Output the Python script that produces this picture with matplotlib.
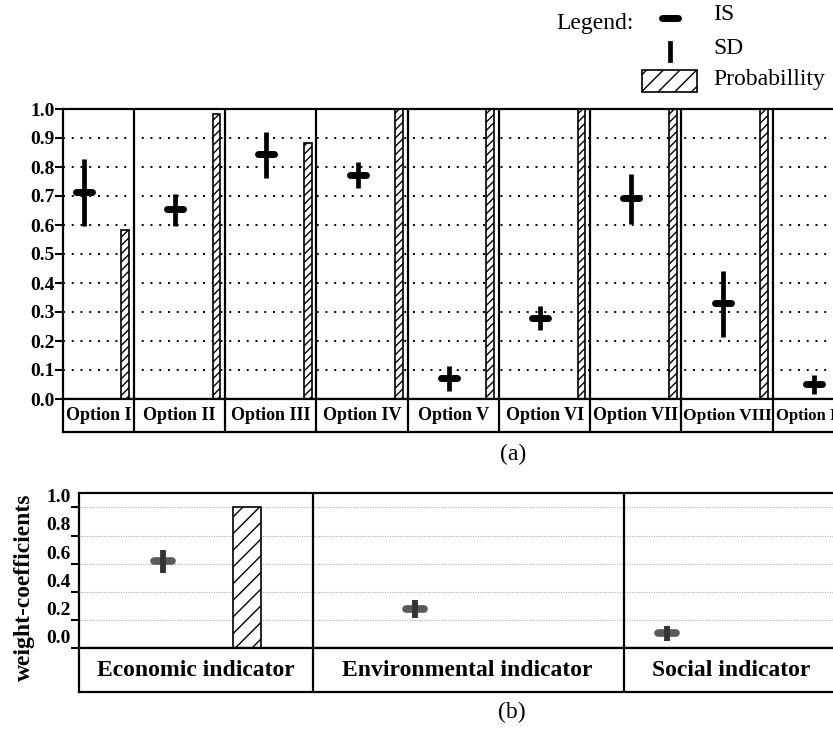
import matplotlib.pyplot as plt
import matplotlib.transforms as mtransforms
from matplotlib.lines import Line2D
from matplotlib.patches import Rectangle

plt.rcParams['font.family'] = ['Liberation Serif', 'DejaVu Serif']
plt.rcParams['hatch.linewidth'] = 1.0

# (a) options
options = ['Option I', 'Option II', 'Option III', 'Option IV', 'Option V',
           'Option VI', 'Option VII', 'Option VIII', 'Option IX']
is_a = [0.715, 0.655, 0.845, 0.772, 0.071, 0.281, 0.692, 0.330, 0.052]
sd_lo_a = [0.597, 0.598, 0.763, 0.729, 0.028, 0.238, 0.603, 0.215, 0.017]
sd_hi_a = [0.827, 0.706, 0.922, 0.818, 0.115, 0.321, 0.776, 0.442, 0.083]
prob_a = [0.583, 0.982, 0.882, 1.0, 1.0, 1.0, 1.0, 1.0, 1.0]

# (b) indicators
indicators = ['Economic indicator', 'Environmental indicator', 'Social indicator']
is_b = [0.621, 0.277, 0.106]
sd_lo_b = [0.532, 0.213, 0.054]
sd_hi_b = [0.697, 0.343, 0.158]
prob_b = [1.0]

W, H = 833, 733
fig = plt.figure(figsize=(W / 100, H / 100), dpi=100)


def box(x0, y0, x1, y1):
    # pixel box (top-left origin) -> figure fraction rect
    return [x0 / W, (H - y1) / H, (x1 - x0) / W, (y1 - y0) / H]


def frame(ax, lw=1.6):
    for s in ax.spines.values():
        s.set_linewidth(lw)
        s.set_color('black')


# ---------------- panel (a) ----------------
ax = fig.add_axes(box(63, 109, 864, 399))
axl = fig.add_axes(box(63, 399, 864, 432))
xa = list(range(len(options)))
for a in (ax, axl):
    a.set_xlim(-0.278, 8.5)
    frame(a)
    for k in range(len(options) - 1):
        a.axvline(k + 0.5, color='black', lw=1.6)
ax.set_ylim(0, 1.0)
ax.set_yticks([i / 10 for i in range(11)])
ax.set_yticklabels(['%.1f' % (i / 10) for i in range(11)],
                   fontsize=14, fontweight='bold')
ax.tick_params(axis='y', length=6, width=1.5, pad=0)
ax.set_xticks([])
for i in range(1, 10):
    ax.axhline(i / 10, color='black', lw=1.4, ls=(0, (1, 3.5)), zorder=1)

ax.bar([x + 0.405 for x in xa], prob_a, width=0.085, color='white',
       edgecolor='black', lw=1.2, hatch='////', zorder=2)
ax.vlines([x - 0.05 for x in xa], sd_lo_a, sd_hi_a, color='black', lw=3.4,
          zorder=3)
ax.hlines(is_a, [x - 0.05 - 0.088 for x in xa], [x - 0.05 + 0.088 for x in xa],
          color='black', lw=5, capstyle='round', zorder=4)

axl.set_ylim(0, 1)
axl.set_xticks([])
axl.set_yticks([])
label_x = [0.111] + xa[1:8] + [7.93]
label_fs = [13] * 7 + [12.5, 12]
for lx, name, fs in zip(label_x, options, label_fs):
    axl.text(lx, 0.5, name, ha='center', va='center', fontsize=fs,
             fontweight='bold')

fig.text(513 / W, 1 - 454 / H, '(a)', ha='center', va='center', fontsize=17)

# legend
fig.add_artist(Line2D([662 / W, 678 / W], [1 - 18 / H, 1 - 18 / H],
                      color='black', lw=5, solid_capstyle='round'))
fig.add_artist(Line2D([670 / W, 670 / W], [1 - 43 / H, 1 - 60 / H],
                      color='black', lw=3.4))
fig.add_artist(Rectangle((642 / W, 1 - 92 / H), 55 / W, 22 / H,
                         transform=fig.transFigure, facecolor='white',
                         edgecolor='black', lw=1.2, hatch='//'))
fig.text(556 / W, 1 - 24 / H, 'Legend:', ha='left', va='center', fontsize=17)
fig.text(713 / W, 1 - 15 / H, 'IS', ha='left', va='center', fontsize=17)
fig.text(713 / W, 1 - 48 / H, 'SD', ha='left', va='center', fontsize=17)
fig.text(713 / W, 1 - 80 / H, 'Probabillity', ha='left', va='center',
         fontsize=17)

# ---------------- panel (b) ----------------
bx = fig.add_axes(box(79, 493.2, 842, 648.3))
bxl = fig.add_axes(box(79, 648.3, 842, 691.7))
xb = [0.517, 1.327, 2.137]
for a in (bx, bxl):
    a.set_xlim(0.246, 2.7)
    frame(a)
    for k in range(1, len(indicators)):
        a.axvline(k, color='black', lw=1.6)
bx.set_ylim(0, 1.1)
yt = [0.0, 0.2, 0.4, 0.6, 0.8, 1.0]
bx.set_yticks(yt)
bx.set_yticklabels(['%.1f' % v for v in yt], fontsize=14, fontweight='bold')
bx.tick_params(axis='y', length=6, width=1.5, pad=0)
shift = mtransforms.ScaledTranslation(0, 0.116, fig.dpi_scale_trans)
for t in bx.get_yticklabels():
    t.set_transform(t.get_transform() + shift)
bx.set_xticks([])
for v in yt[1:]:
    bx.axhline(v, color='#b0b0b0', lw=0.8, ls=(0, (1, 1.2)), zorder=1)

bx.bar([0.787], prob_b, width=0.089, color='white', edgecolor='black',
       lw=1.2, hatch='//', zorder=2)
bx.hlines(is_b, [x - 0.0295 for x in xb], [x + 0.0295 for x in xb],
          color='#5a5a5a', lw=5.5, capstyle='round', zorder=3)
bx.vlines(xb, sd_lo_b, sd_hi_b, color='#333333', lw=4.2, zorder=4)

bxl.set_ylim(0, 1)
bxl.set_xticks([])
bxl.set_yticks([])
for lx, name in zip([0.623, 1.494, 2.343], indicators):
    bxl.text(lx, 0.5, name, ha='center', va='center', fontsize=17,
             fontweight='bold')

fig.text(24 / W, 1 - 587 / H, 'weight-coefficients', rotation=90,
         ha='center', va='center', fontsize=17, fontweight='bold')
fig.text(512 / W, 1 - 712 / H, '(b)', ha='center', va='center', fontsize=17)

fig.savefig('out.png', dpi=100)
